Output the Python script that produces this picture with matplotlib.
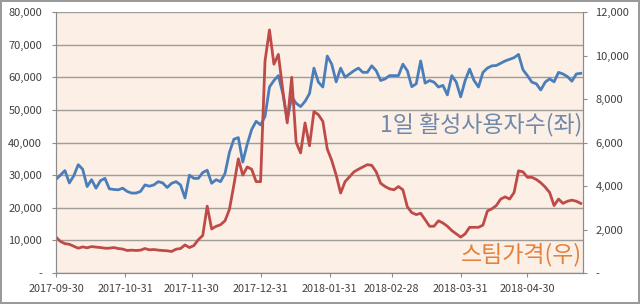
import matplotlib.pyplot as plt
import pandas as pd

plt.rcParams['font.family'] = ['Noto Sans CJK KR', 'DejaVu Sans']

# daily active users (left axis), sampled every 2 days from 2017-09-30
users = [28700, 30000, 31400, 27600, 29800, 33200, 31800, 26500, 28600, 26000,
         28300, 29000, 25800, 25600, 25500, 26000, 25000, 24500, 24500, 25000,
         27000, 26600, 27000, 28000, 27600, 26200, 27500, 28000, 27000, 23000,
         30000, 29000, 29000, 30800, 31500, 27500, 28600, 28000, 30500, 37000,
         41000, 41500, 34000, 39500, 44000, 46500, 45400, 48000, 57000, 59000,
         60500, 55000, 47000, 54000, 52000, 51000, 52600, 55000, 62800, 58500,
         57000, 66500, 64000, 58600, 62800, 60000, 61000, 62000, 62800, 61500,
         61500, 63500, 62000, 59000, 59500, 60500, 60500, 60500, 64000, 62000,
         57100, 58000, 65000, 58200, 59000, 58500, 57000, 57500, 54600, 60500,
         58500, 54000, 59000, 62500, 59000, 57000, 61500, 62800, 63500, 63600,
         64300, 65000, 65500, 66000, 67000, 62300, 60500, 58500, 58000, 56100,
         58500, 59500, 58600, 61500, 61000, 60200, 58800, 61000, 61200]

# steem price (right axis)
price = [1650, 1450, 1350, 1320, 1230, 1140, 1200, 1160, 1215, 1190,
         1170, 1140, 1140, 1170, 1125, 1100, 1035, 1050, 1035, 1050,
         1125, 1065, 1080, 1050, 1035, 1020, 990, 1095, 1125, 1290,
         1170, 1260, 1530, 1725, 3075, 2025, 2145, 2220, 2400, 2925,
         4050, 5250, 4500, 4875, 4770, 4200, 4200, 9750, 11175, 9600,
         10050, 8400, 6900, 9000, 6000, 5520, 6900, 5850, 7425, 7275,
         6975, 5700, 5175, 4500, 3675, 4200, 4425, 4650, 4770, 4875,
         4980, 4950, 4650, 4125, 3975, 3870, 3825, 3975, 3825, 3045,
         2775, 2685, 2745, 2450, 2150, 2150, 2400, 2300, 2150, 1950,
         1800, 1650, 1800, 2100, 2100, 2100, 2200, 2850, 2950, 3100,
         3400, 3500, 3400, 3700, 4700, 4650, 4400, 4400, 4300, 4150,
         3950, 3700, 3100, 3400, 3200, 3300, 3350, 3300, 3200]

date_ticks = ['2017-09-30', '2017-10-31', '2017-11-30', '2017-12-31',
              '2018-01-31', '2018-02-28', '2018-03-31', '2018-04-30']

dates = pd.date_range('2017-09-30', periods=len(users), freq='2D')

fig = plt.figure(figsize=(6.4, 3.04), dpi=100, edgecolor='#9a9a9a', linewidth=1.5)
ax = fig.add_axes([56 / 640, 31 / 304, 527 / 640, 261 / 304])
ax.set_facecolor('#fcefe5')

ax.plot(dates, users, color='#4a7ebb', linewidth=2)
ax.set_ylim(0, 80000)
ax.set_yticks(range(0, 80001, 10000))
ax.set_yticklabels(['-'] + [f'{v:,}' for v in range(10000, 80001, 10000)])
ax.grid(axis='y', color='#a09c98', linewidth=1)
ax.set_axisbelow(True)

ax.set_xlim(pd.Timestamp('2017-09-30'), pd.Timestamp('2018-05-25'))
ax.set_xticks(pd.to_datetime(date_ticks))
ax.set_xticklabels(date_ticks)

ax2 = ax.twinx()
ax2.plot(dates, price, color='#be4b48', linewidth=2)
ax2.set_ylim(0, 12000)
ax2.set_yticks(range(0, 12001, 2000))
ax2.set_yticklabels(['-'] + [f'{v:,}' for v in range(2000, 12001, 2000)])

for a in (ax, ax2):
    a.spines['top'].set_visible(False)
    for s in ('left', 'right', 'bottom'):
        a.spines[s].set_color('#8c8c8c')
    a.tick_params(labelsize=8, colors='#8c8c8c', labelcolor='#404040', length=3)
ax.tick_params(axis='y', pad=7)
ax2.tick_params(axis='y', pad=6)
ax.tick_params(axis='x', pad=5, labelsize=7.8)

ax.text(0.998, 0.567, '1일 활성사용자수(좌)', transform=ax.transAxes,
        ha='right', va='center', fontsize=16.5, color='#7089ab')
ax.text(0.998, 0.069, '스팀가격(우)', transform=ax.transAxes,
        ha='right', va='center', fontsize=16.5, color='#e3803c')

fig.savefig('out.png', dpi=100, edgecolor=fig.get_edgecolor())
